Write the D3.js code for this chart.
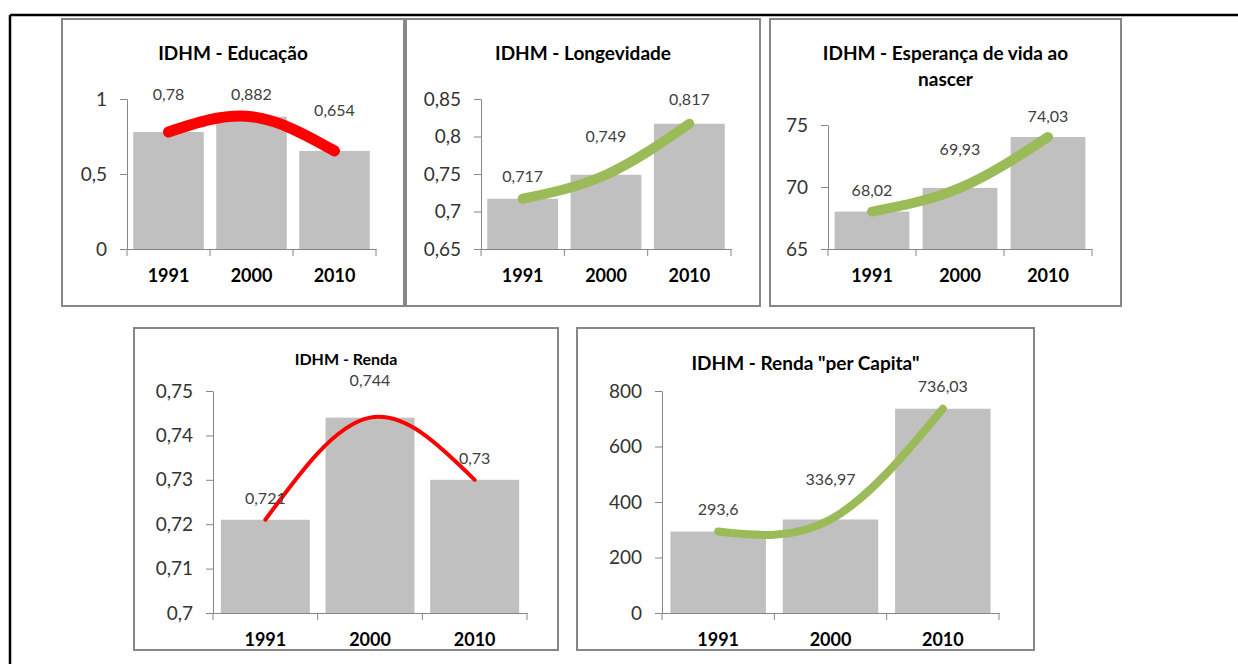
<!DOCTYPE html>
<html>
<head>
<meta charset="utf-8">
<script src="https://cdn.jsdelivr.net/npm/d3@7"></script>
<style>
  body { margin: 0; background: #fff; }
  svg text { font-family: Lato, "Open Sans", sans-serif; }
</style>
</head>
<body>
<script>
// values
const years = ["1991", "2000", "2010"];

const educacao = [0.78, 0.882, 0.654];
const longevidade = [0.717, 0.749, 0.817];
const esperancaVida = [68.02, 69.93, 74.03];
const renda = [0.721, 0.744, 0.73];
const rendaPerCapita = [293.6, 336.97, 736.03];

const ticksEducacao = [0, 0.5, 1];
const ticksLongevidade = [0.65, 0.7, 0.75, 0.8, 0.85];
const ticksEsperanca = [65, 70, 75];
const ticksRenda = [0.7, 0.71, 0.72, 0.73, 0.74, 0.75];
const ticksPerCapita = [0, 200, 400, 600, 800];

const RED = "#ff0000";
const GREEN = "#9bbb59";
const BAR = "#c0c0c0";
const AXIS = "#868686";

//comma as decimal mark, like the original (pt-BR)
const fmt = v => String(v).replace(".", ",");

const svg = d3.select("body").append("svg")
    .attr("width", 1238)
    .attr("height", 664);

// outer black frame (top + left only)
svg.append("line").attr("x1", 10).attr("y1", 15).attr("x2", 1238).attr("y2", 15)
    .attr("stroke", "#000").attr("stroke-width", 2.5);
svg.append("line").attr("x1", 10).attr("y1", 15).attr("x2", 10).attr("y2", 664)
    .attr("stroke", "#000").attr("stroke-width", 2.5);

// one entry per chart box: data refs + where it sits on the page
const panels = [
    { title: ["IDHM - Educação"], values: educacao, ticks: ticksEducacao, color: RED,
      box: [62, 19, 404, 306], plot: [127, 376, 99, 249], titleY: [60], titleSize: 19,
      lineWidth: 11, lift: [38, 22, 41] },
    { title: ["IDHM - Longevidade"], values: longevidade, ticks: ticksLongevidade, color: GREEN,
      box: [406, 19, 760, 306], plot: [481, 731, 99, 249], titleY: [60], titleSize: 19,
      lineWidth: 10, lift: [22, 38, 24] },
    { title: ["IDHM - Esperança de vida ao", "nascer"], values: esperancaVida, ticks: ticksEsperanca, color: GREEN,
      box: [770, 19, 1121, 306], plot: [828, 1092, 125, 249], titleY: [60, 86], titleSize: 19,
      lineWidth: 10, lift: [21, 38, 21] },
    { title: ["IDHM - Renda"], values: renda, ticks: ticksRenda, color: RED,
      box: [134, 328, 558, 650], plot: [213, 527, 391, 613], titleY: [365], titleSize: 16,
      lineWidth: 4, lift: [21, 37, 21] },
    { title: ["IDHM - Renda \"per Capita\""], values: rendaPerCapita, ticks: ticksPerCapita, color: GREEN,
      box: [577, 328, 1034, 650], plot: [662, 999, 391, 613], titleY: [370], titleSize: 19,
      lineWidth: 8, lift: [22, 40, 22] }
];

function drawPanel(p) {
    const [bx0, by0, bx1, by1] = p.box;
    const [px0, px1, pTop, pBottom] = p.plot;
    const g = svg.append("g");

    //chart border
    g.append("rect")
        .attr("x", bx0).attr("y", by0)
        .attr("width", bx1 - bx0).attr("height", by1 - by0)
        .attr("fill", "#fff")
        .attr("stroke", "#878787")
        .attr("stroke-width", 2);

    // title (one or two lines)
    g.selectAll("text.title")
        .data(p.title)
        .join("text")
        .attr("class", "title")
        .attr("x", (bx0 + bx1) / 2)
        .attr("y", (d, i) => p.titleY[i])
        .attr("text-anchor", "middle")
        .attr("font-size", p.titleSize + "px")
        .attr("font-weight", "bold")
        .attr("fill", "#000")
        .text(d => d);

    const x = d3.scaleBand()
        .domain(years)
        .range([px0, px1])
        .paddingInner(0.15)
        .paddingOuter(0.075);

    const y = d3.scaleLinear()
        .domain(d3.extent(p.ticks))
        .range([pBottom, pTop]);

    // bars
    g.append("g")
        .attr("fill", BAR)
        .selectAll("rect")
        .data(p.values)
        .join("rect")
        .attr("x", (d, i) => x(years[i]))
        .attr("width", x.bandwidth())
        .attr("y", d => y(d))
        .attr("height", d => pBottom - y(d));

    // y axis
    const yAxis = g.append("g")
        .attr("transform", `translate(${px0},0)`)
        .call(d3.axisLeft(y).tickValues(p.ticks).tickFormat(fmt).tickSize(7).tickSizeOuter(0).tickPadding(13));
    yAxis.select(".domain").attr("stroke", AXIS);
    yAxis.selectAll(".tick line").attr("stroke", AXIS);
    yAxis.selectAll("text")
        .attr("font-size", "19px")
        .attr("fill", "#333")
        .style("font-family", "Lato, 'Open Sans', sans-serif");

    // x axis: labels at band centres, tick marks on band edges (excel style)
    const xAxis = g.append("g")
        .attr("transform", `translate(0,${pBottom})`)
        .call(d3.axisBottom(x).tickSize(0).tickSizeOuter(0).tickPadding(20));
    xAxis.select(".domain").attr("stroke", AXIS);
    xAxis.selectAll("text")
        .attr("font-size", "18px")
        .attr("font-weight", "bold")
        .attr("fill", "#000")
        .style("font-family", "Lato, 'Open Sans', sans-serif");
    xAxis.selectAll("line.edge")
        .data(d3.range(years.length + 1))
        .join("line")
        .attr("class", "edge")
        .attr("x1", i => px0 + i * x.step())
        .attr("x2", i => px0 + i * x.step())
        .attr("y1", 0)
        .attr("y2", 7)
        .attr("stroke", AXIS);

    //smoothed trend line through the bar tops
    const line = d3.line()
        .x((d, i) => x(years[i]) + x.bandwidth() / 2)
        .y(d => y(d))
        .curve(d3.curveNatural);

    g.append("path")
        .datum(p.values)
        .attr("d", line)
        .attr("fill", "none")
        .attr("stroke", p.color)
        .attr("stroke-width", p.lineWidth)
        .attr("stroke-linecap", "round");

    // data labels
    g.selectAll("text.value")
        .data(p.values)
        .join("text")
        .attr("class", "value")
        .attr("x", (d, i) => x(years[i]) + x.bandwidth() / 2)
        .attr("y", (d, i) => y(d) - p.lift[i])
        .attr("dy", "0.35em")
        .attr("text-anchor", "middle")
        .attr("font-size", "16px")
        .attr("fill", "#404040")
        .text(fmt);
}

panels.forEach(drawPanel);
</script>
</body>
</html>
